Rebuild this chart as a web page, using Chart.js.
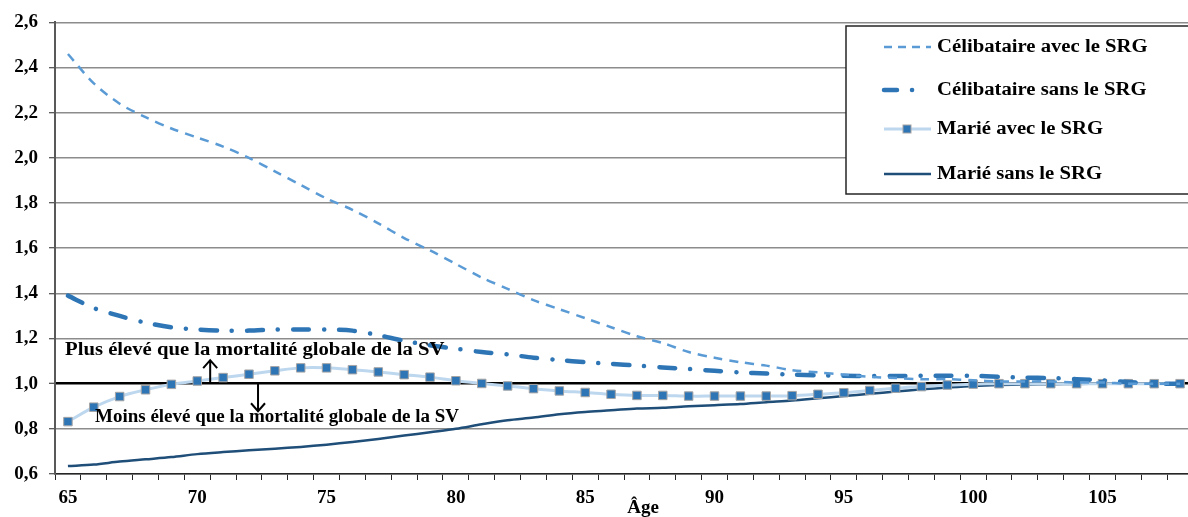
<!DOCTYPE html>
<html lang="fr">
<head>
<meta charset="utf-8">
<script src="https://cdn.jsdelivr.net/npm/chart.js@4/dist/chart.umd.min.js"></script>
<style>
  html, body { margin: 0; padding: 0; background: #fff; overflow: hidden; }
  #wrap { width: 1188px; height: 517px; overflow: hidden; }
</style>
</head>
<body>
<div id="wrap"><canvas id="chart1" width="1200" height="517"></canvas></div>
<script>
// ages 65 to 108
const ages = [65, 66, 67, 68, 69, 70, 71, 72, 73, 74, 75, 76, 77, 78, 79, 80, 81, 82, 83, 84, 85, 86,
  87, 88, 89, 90, 91, 92, 93, 94, 95, 96, 97, 98, 99, 100, 101, 102, 103, 104, 105, 106, 107, 108];
const shownAges = [65, 70, 75, 80, 85, 90, 95, 100, 105];
const yTicks = [0.6, 0.8, 1.0, 1.2, 1.4, 1.6, 1.8, 2.0, 2.2, 2.4, 2.6];

const celibAvec = [2.46, 2.33, 2.24, 2.18, 2.13, 2.09, 2.05, 2.00, 1.94, 1.88, 1.82, 1.77, 1.71, 1.645,
  1.59, 1.53, 1.47, 1.42, 1.37, 1.33, 1.29, 1.25, 1.21, 1.18, 1.14, 1.115, 1.095, 1.08, 1.06, 1.05,
  1.04, 1.03, 1.025, 1.02, 1.02, 1.015, 1.01, 1.01, 1.01, 1.005, 1.005, 1.0, 1.0, 1.0];
const celibSans = [1.39, 1.335, 1.30, 1.27, 1.25, 1.24, 1.235, 1.235, 1.24, 1.24, 1.24, 1.235, 1.215,
  1.19, 1.17, 1.155, 1.14, 1.13, 1.115, 1.105, 1.095, 1.088, 1.08, 1.072, 1.065, 1.057, 1.05, 1.045,
  1.04, 1.037, 1.035, 1.034, 1.034, 1.035, 1.035, 1.035, 1.03, 1.027, 1.025, 1.02, 1.015, 1.007, 1.0, 1.0];
const marieAvec = [0.832, 0.896, 0.943, 0.973, 0.997, 1.012, 1.027, 1.042, 1.057, 1.070, 1.070, 1.062,
  1.052, 1.040, 1.029, 1.013, 1.001, 0.990, 0.978, 0.968, 0.961, 0.953, 0.948, 0.948, 0.945, 0.945,
  0.945, 0.945, 0.947, 0.953, 0.960, 0.970, 0.980, 0.987, 0.994, 0.998, 1.0, 1.0, 1.0, 1.0, 1.0, 1.0, 1.0, 1.0];
const marieSans = [0.635, 0.642, 0.655, 0.665, 0.675, 0.688, 0.697, 0.705, 0.712, 0.72, 0.73, 0.742,
  0.755, 0.77, 0.785, 0.80, 0.82, 0.838, 0.85, 0.865, 0.875, 0.882, 0.89, 0.893, 0.90, 0.905, 0.91,
  0.918, 0.925, 0.935, 0.945, 0.955, 0.965, 0.975, 0.983, 0.99, 0.994, 0.996, 0.998, 0.999, 1.0, 1.0, 1.0, 1.0];

const serif = "'Liberation Serif', 'Times New Roman', serif";
const fmt = v => v.toFixed(1).replace('.', ',');

// the original text is a bit stretched sideways
function wideText(ctx, txt, x, y, sx) {
    ctx.save();
    ctx.translate(x, y);
    ctx.scale(sx, 1);
    ctx.fillText(txt, 0, 0);
    ctx.restore();
}

// custom legend in a framed box, like the original
const boxLegend = {
    id: 'boxLegend',
    afterDraw(chart) {
        const ctx = chart.ctx;
        const rows = [47, 90, 129, 174];
        ctx.save();
        ctx.fillStyle = '#fff';
        ctx.strokeStyle = '#262626';
        ctx.lineWidth = 1.5;
        ctx.fillRect(846, 26, 360, 168);
        ctx.strokeRect(846, 26, 360, 168);
        chart.data.datasets.forEach((ds, i) => {
            const y = rows[i];
            ctx.strokeStyle = ds.borderColor;
            ctx.lineWidth = ds.borderWidth;
            ctx.lineCap = ds.borderCapStyle || 'butt';
            ctx.setLineDash(ds.legendDash || []);
            ctx.beginPath();
            ctx.moveTo(884, y);
            ctx.lineTo(931, y);
            ctx.stroke();
            ctx.setLineDash([]);
            if (ds.pointRadius > 0) {
                ctx.fillStyle = ds.pointBackgroundColor;
                ctx.strokeStyle = ds.pointBorderColor;
                ctx.lineWidth = 1;
                ctx.fillRect(903, y - 4, 8, 8);
                ctx.strokeRect(903, y - 4, 8, 8);
            }
            ctx.fillStyle = '#000';
            ctx.font = 'bold 18px ' + serif;
            ctx.textBaseline = 'middle';
            wideText(ctx, ds.label, 937, y, 1.15);
        });
        ctx.restore();
    }
};

// notes and arrows around the 1,0 line
const notes = {
    id: 'notes',
    afterDatasetsDraw(chart) {
        const ctx = chart.ctx;
        const x = chart.scales.x, y = chart.scales.y;
        const left = chart.chartArea.left;
        ctx.save();
        ctx.fillStyle = '#000';
        ctx.font = 'bold 18px ' + serif;
        ctx.textBaseline = 'middle';
        wideText(ctx, 'Plus élevé que la mortalité globale de la SV', left + 10, y.getPixelForValue(1.148), 1.15);
        wideText(ctx, 'Moins élevé que la mortalité globale de la SV', left + 40, y.getPixelForValue(0.852), 1.055);
        ctx.strokeStyle = '#000';
        ctx.lineWidth = 2;
        const arrow = (px, v0, v1) => {
            const y0 = y.getPixelForValue(v0), y1 = y.getPixelForValue(v1);
            const d = y1 < y0 ? 8 : -8;
            ctx.beginPath();
            ctx.moveTo(px, y0);
            ctx.lineTo(px, y1);
            ctx.moveTo(px - 7, y1 + d);
            ctx.lineTo(px, y1);
            ctx.lineTo(px + 7, y1 + d);
            ctx.stroke();
        };
        arrow(x.getPixelForValue(5.5), 1.0, 1.104);
        arrow(x.getPixelForValue(7.35), 1.0, 0.878);
        ctx.restore();
    }
};

const data = {
    labels: ages,
    datasets: [
        {
            label: 'Célibataire avec le SRG',
            data: celibAvec,
            borderColor: '#5B9BD5',
            borderWidth: 2.5,
            borderDash: [9, 7],
            legendDash: [8, 6],
            pointRadius: 0,
            tension: 0.3
        },
        {
            label: 'Célibataire sans le SRG',
            data: celibSans,
            borderColor: '#2E75B6',
            borderWidth: 4.5,
            borderDash: [16, 15, 0.1, 15],
            legendDash: [13, 15, 0.1, 30],
            borderCapStyle: 'round',
            pointRadius: 0,
            tension: 0.3
        },
        {
            label: 'Marié avec le SRG',
            data: marieAvec,
            borderColor: '#BDD7EE',
            borderWidth: 3,
            pointStyle: 'rect',
            pointRadius: 6,
            pointBackgroundColor: '#2E75B6',
            pointBorderColor: '#A5A5A5',
            pointBorderWidth: 1,
            tension: 0.3
        },
        {
            label: 'Marié sans le SRG',
            data: marieSans,
            borderColor: '#1F4E79',
            borderWidth: 2.5,
            pointRadius: 0,
            tension: 0.3
        }
    ]
};

const config = {
    type: 'line',
    data: data,
    options: {
        responsive: false,
        animation: false,
        devicePixelRatio: 1,
        layout: { padding: { top: 15, right: 1, bottom: 0, left: 0 } },
        scales: {
            x: {
                type: 'category',
                offset: true,
                afterFit(scale) { scale.height = 43; },
                grid: {
                    offset: true,
                    drawOnChartArea: false,
                    drawTicks: true,
                    tickLength: 6,
                    tickColor: '#262626',
                    tickWidth: 1
                },
                border: { display: true, color: '#262626', width: 1.5 },
                ticks: {
                    autoSkip: false,
                    maxRotation: 0,
                    padding: 7,
                    color: '#000',
                    font: { family: serif, size: 19, weight: 'bold' },
                    callback: function (val) {
                        const a = ages[val];
                        return shownAges.includes(a) ? String(a) : '';
                    }
                },
                title: {
                    display: true,
                    text: '        Âge',
                    color: '#000',
                    font: { family: serif, size: 19, weight: 'bold' },
                    padding: { top: 0, bottom: -2 }
                }
            },
            y: {
                min: 0.6,
                max: 2.6,
                afterFit(scale) { scale.width = 55; },
                afterBuildTicks(scale) { scale.ticks = yTicks.map(v => ({ value: v })); },
                grid: {
                    color: ctx => Math.abs(ctx.tick.value - 1) < 1e-6 ? '#000' : '#8C8C8C',
                    lineWidth: ctx => Math.abs(ctx.tick.value - 1) < 1e-6 ? 2.5 : 1.5,
                    tickColor: '#262626',
                    tickLength: 6,
                    tickWidth: 1
                },
                border: { display: true, color: '#595959', width: 2 },
                ticks: {
                    padding: 11,
                    color: '#000',
                    font: { family: serif, size: 19, weight: 'bold' },
                    callback: v => fmt(v)
                }
            }
        },
        plugins: {
            legend: { display: false },
            title: { display: false },
            tooltip: { enabled: false }
        }
    },
    plugins: [notes, boxLegend]
};

var myLinechart = new Chart(document.getElementById('chart1'), config);
</script>
</body>
</html>
